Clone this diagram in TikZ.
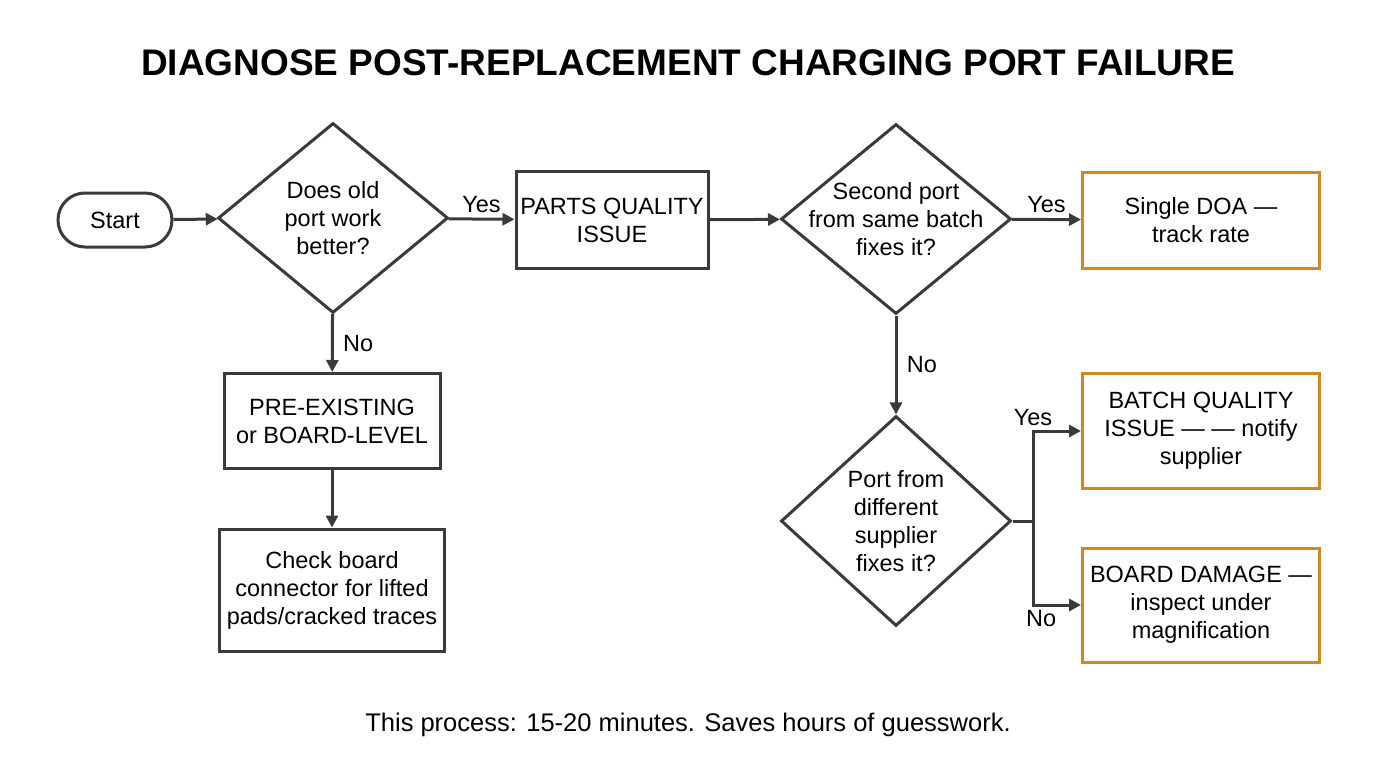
\documentclass[tikz,border=0pt]{standalone}
\usepackage{fontspec}
\setmainfont{Liberation Sans}
\usetikzlibrary{positioning, shapes.geometric, arrows.meta}
\definecolor{ink}{HTML}{3A3A3A}
\definecolor{amber}{HTML}{CF8A1F}
\tikzset{
  box/.style={draw=ink, line width=3pt, minimum width=#1, align=center, font=\fontsize{23.5}{28}\selectfont, text=black},
  box/.default=192pt,
  decide/.style={draw=ink, diamond, line width=3pt, minimum width=230pt, minimum height=190pt, inner sep=-30pt, aspect=1.2, align=center, font=\fontsize{23.5}{28}\selectfont},
  flow/.style={draw=ink, line width=3pt, -{Triangle[length=12pt,width=12pt]}},
  lbl/.style={font=\fontsize{23.5}{28}\selectfont}
}
\begin{document}
\begin{tikzpicture}[x=1pt, y=-1pt]
  \useasboundingbox (0,0) rectangle (1376,768);

  % title
  \node[font=\bfseries\fontsize{37}{42}\selectfont] (title) at (688,63) {DIAGNOSE POST-REPLACEMENT CHARGING PORT FAILURE};

  % main row
  \node[box=114pt, minimum height=54pt, rounded corners=27pt] (start) at (115,220) {Start};
  \node[decide] (old) at (333,218) {Does old\\port work\\better?};
  \node[box=192pt, minimum height=97pt] (parts) at (612,220) {PARTS QUALITY\\ISSUE};
  \node[decide] (second) at (896,219) {Second port\\from same batch\\fixes it?};
  \node[box=237pt, minimum height=96pt, draw=amber] (doa) at (1201,220) {Single DOA —\\track rate};

  % left column
  \node[box=216pt, minimum height=95pt] (pre) at (332,421) {PRE-EXISTING\\or BOARD-LEVEL};
  \node[box=225pt, minimum height=122pt] (check) at (332,590) {Check board\\connector for lifted\\pads/cracked traces};

  % right column
  \node[decide, minimum height=210pt] (other) at (896,521) {Port from\\different\\supplier\\fixes it?};
  \node[box=237pt, minimum height=115pt, draw=amber] (batch) at (1201,431) {BATCH QUALITY\\ISSUE — — notify\\supplier};
  \node[box=237pt, minimum height=114pt, draw=amber] (damage) at (1201,605) {BOARD DAMAGE —\\inspect under\\magnification};

  % connectors
  \draw[flow] (start) -- (old);
  \draw[flow] (old) -- node[lbl, above=2pt] {Yes} (parts);
  \draw[flow] (parts) -- (second);
  \draw[flow] (second) -- node[lbl, above=2pt] {Yes} (doa);
  \draw[flow] (old) -- node[lbl, right=6pt] {No} (pre);
  \draw[flow] (pre) -- (check);
  \draw[flow] (second) -- node[lbl, right=6pt] {No} (other);
  \coordinate (split) at (1033,521);
  \draw[ink, line width=3pt] (other.east) -- (split);
  \draw[flow] (split) |- node[lbl, pos=0.75, above left=0pt and 0pt] {Yes} (batch.west);
  \draw[flow] (split) |- node[lbl, pos=0.75, below left=0pt and -4pt] {No} (damage.west);

  % footer
  \node[font=\fontsize{25.5}{30}\selectfont] (note) at (688,725) {This process: 15-20 minutes. Saves hours of guesswork.};
\end{tikzpicture}
\end{document}
